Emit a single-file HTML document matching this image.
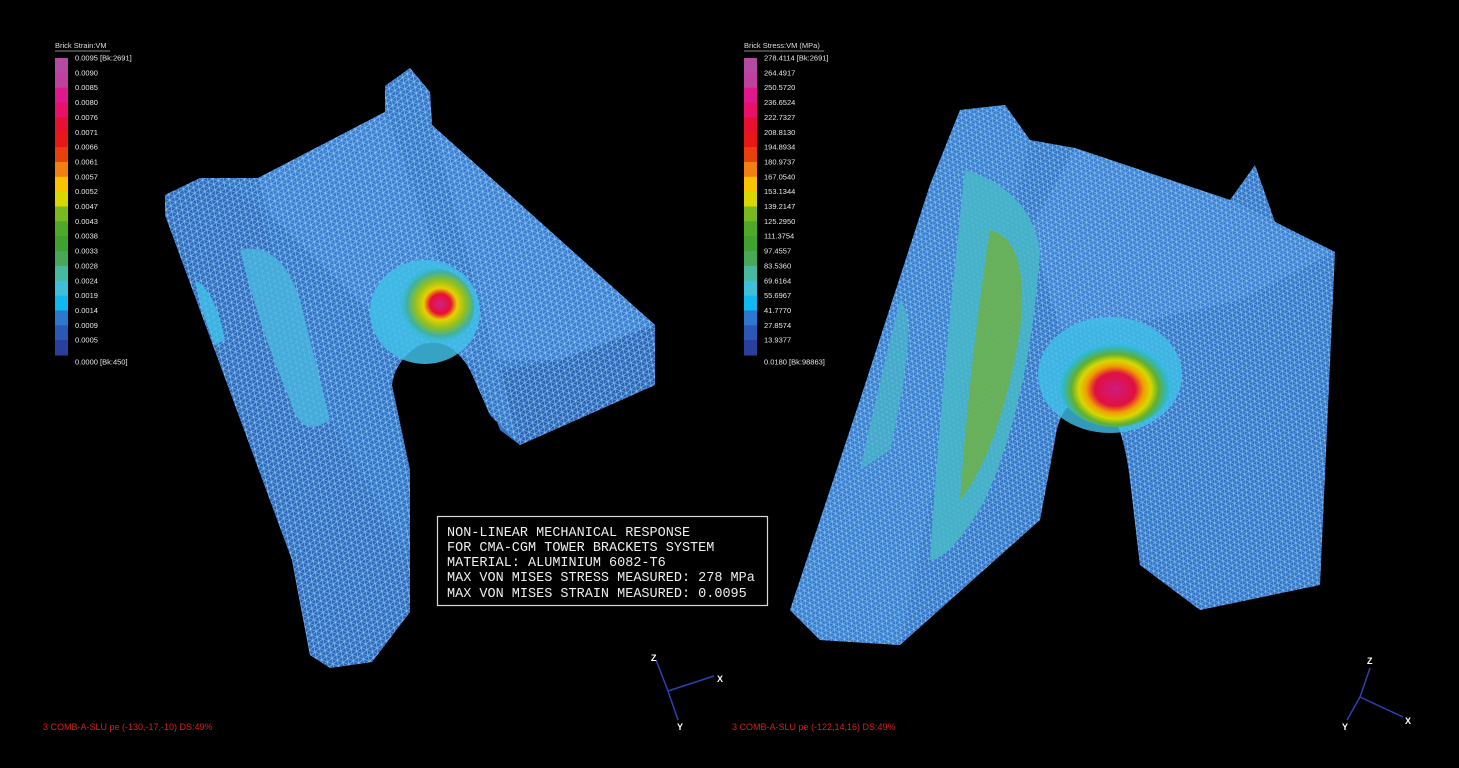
<!DOCTYPE html>
<html><head><meta charset="utf-8"><style>
html,body{margin:0;padding:0;background:#000;width:1459px;height:768px;overflow:hidden}
svg{display:block}
text{font-family:"Liberation Sans",sans-serif}
text.mono{font-family:"Liberation Mono",monospace}
</style></head><body>
<svg id="s" width="1459" height="768" viewBox="0 0 1459 768">
<defs>
<pattern id="mesh" width="12" height="10" patternUnits="userSpaceOnUse" patternTransform="rotate(20)">
<path d="M0 0H12M0 5H12M0 10H12M0 0L6 10M6 0L12 10M12 0L6 10M6 0L0 10" stroke="#a0dcff" stroke-width="0.6" fill="none" opacity="0.85"/>
</pattern>
<pattern id="mesh2" width="10" height="9" patternUnits="userSpaceOnUse" patternTransform="rotate(-35)">
<path d="M0 0H10M0 4.5H10M0 9H10M0 0L5 9M5 0L10 9M10 0L5 9M5 0L0 9" stroke="#a0dcff" stroke-width="0.55" fill="none" opacity="0.8"/>
</pattern>
<radialGradient id="hotL" cx="0.6" cy="0.45" r="0.5">
<stop offset="0" stop-color="#d0208a"/><stop offset="0.25" stop-color="#e81030"/><stop offset="0.4" stop-color="#e8d000"/><stop offset="0.6" stop-color="#90c020"/><stop offset="0.8" stop-color="#40b0a0"/><stop offset="1" stop-color="#30c0e8" stop-opacity="0"/>
</radialGradient>
<radialGradient id="hotR" cx="0.5" cy="0.6" r="0.5">
<stop offset="0" stop-color="#d01a80"/><stop offset="0.35" stop-color="#e01040"/><stop offset="0.5" stop-color="#f0a000"/><stop offset="0.62" stop-color="#d8d800"/><stop offset="0.75" stop-color="#60b030"/><stop offset="0.9" stop-color="#30b8c8"/><stop offset="1" stop-color="#30c0e8" stop-opacity="0"/>
</radialGradient>
</defs>

<g>
<path d="M165,195 L200,178 L258,178 L385,112 L385,86 L410,68 L430,92 L432,125 L655,325 L655,385 L520,445 L490,415 L470,370 Q450,335 420,345 Q395,360 392,385 L410,470 L410,612 L372,662 L330,668 L310,655 L292,560 L165,215 Z" fill="#2f6fc4"/>
<path d="M258,178 L385,112 L432,125 L655,325 L560,360 L470,360 Q440,330 410,350 L270,215 Z" fill="#3a7bd0"/>
<path d="M165,195 L200,178 L230,185 L258,205 L330,420 L410,560 L410,612 L372,662 L330,668 L310,655 L292,560 L165,215 Z" fill="#2d68bc"/>
<path d="M520,445 L655,385 L655,325 L560,360 L500,370 Z" fill="#2a62b4"/>
<path d="M385,86 L410,68 L430,92 L432,125 L520,445 L500,430 L385,112 Z" fill="#3272c6"/>
<path d="M165,195 L200,178 L258,178 L385,112 L385,86 L410,68 L430,92 L432,125 L655,325 L655,385 L520,445 L490,415 L470,370 Q450,335 420,345 Q395,360 392,385 L410,470 L410,612 L372,662 L330,668 L310,655 L292,560 L165,215 Z" fill="url(#mesh)"/>
<path d="M240,250 Q280,240 300,300 L330,420 Q300,440 290,400 Q260,330 240,250 Z" fill="#48b8e0" opacity="0.8"/>
<path d="M195,280 Q215,290 225,340 L215,345 Q200,310 195,280 Z" fill="#40c0e8" opacity="0.8"/>
<ellipse cx="425" cy="312" rx="55" ry="52" fill="#40c0e8" opacity="0.85"/>
<ellipse cx="432" cy="308" rx="42" ry="40" fill="url(#hotL)"/>
</g>

<g>
<path d="M930,185 L960,110 L1005,105 L1030,140 L1075,148 L1230,200 L1255,165 L1275,222 L1335,252 L1320,585 L1200,610 L1140,565 L1130,480 Q1120,400 1090,395 Q1060,400 1055,440 L1040,520 L900,645 L820,640 L790,610 L860,400 Z" fill="#2f6fc4"/>
<path d="M1075,148 L1230,200 L1275,222 L1335,252 L1240,300 L1150,320 L1060,330 L1030,230 Z" fill="#3a7bd0"/>
<path d="M930,185 L960,110 L1005,105 L1030,140 L990,300 L930,500 L900,645 L820,640 L790,610 L860,400 Z" fill="#3478cc"/>
<path d="M930,185 L960,110 L1005,105 L1030,140 L1075,148 L1230,200 L1255,165 L1275,222 L1335,252 L1320,585 L1200,610 L1140,565 L1130,480 Q1120,400 1090,395 Q1060,400 1055,440 L1040,520 L900,645 L820,640 L790,610 L860,400 Z" fill="url(#mesh2)"/>
<path d="M965,170 Q1030,190 1040,250 Q1030,400 985,500 Q950,560 930,560 Q940,400 965,170 Z" fill="#48b8c8" opacity="0.85"/>
<path d="M990,230 Q1030,240 1020,330 Q1000,450 960,500 Q970,360 990,230 Z" fill="#70b040" opacity="0.8"/>
<path d="M900,300 Q920,320 890,450 L860,470 Q880,380 900,300 Z" fill="#48b8c8" opacity="0.7"/>
<ellipse cx="1110" cy="375" rx="72" ry="58" fill="#40c0e8" opacity="0.8"/>
<ellipse cx="1115" cy="380" rx="58" ry="47" fill="url(#hotR)"/>
</g>

<g>
<rect x="437.5" y="516.5" width="330" height="89" fill="#000" stroke="#d8d8d8" stroke-width="1.2"/>
<g fill="#eee" font-size="13.5">
<text class="mono" x="447" y="536">NON-LINEAR MECHANICAL RESPONSE</text>
<text class="mono" x="447" y="551">FOR CMA-CGM TOWER BRACKETS SYSTEM</text>
<text class="mono" x="447" y="566">MATERIAL: ALUMINIUM 6082-T6</text>
<text class="mono" x="447" y="581">MAX VON MISES STRESS MEASURED: 278 MPa</text>
<text class="mono" x="447" y="597">MAX VON MISES STRAIN MEASURED: 0.0095</text>
</g></g>

<g stroke="#3040b0" stroke-width="1.5">
<line x1="668" y1="691" x2="656" y2="660"/><line x1="668" y1="691" x2="714" y2="676"/><line x1="668" y1="691" x2="678" y2="720"/>
</g>
<g fill="#fff" font-size="9" font-weight="bold">
<text x="651" y="661">Z</text><text x="717" y="682">X</text><text x="677" y="730">Y</text>
</g>
<g stroke="#3040b0" stroke-width="1.5">
<line x1="1360" y1="697" x2="1370" y2="668"/><line x1="1360" y1="697" x2="1403" y2="717"/><line x1="1360" y1="697" x2="1347" y2="720"/>
</g>
<g fill="#fff" font-size="9" font-weight="bold">
<text x="1367" y="664">Z</text><text x="1405" y="724">X</text><text x="1342" y="730">Y</text>
</g>

<text x="43" y="730" font-size="9" fill="#d42020">3  COMB-A-SLU pe  (-130,-17,-10)  DS:49%</text>
<text x="732" y="730" font-size="9" fill="#d42020">3  COMB-A-SLU pe  (-122,14,16)  DS:49%</text>

<g id="legL"></g>
<g id="legR"></g>
</svg>
<script>
const bandColors=["#b44aa2","#c0409e","#e0188e","#e8106a","#e81030","#e81818","#e8400c","#f08010","#f8c400","#d8d800","#a8c814","#78b820","#50a828","#40a030","#48a858","#48b8a0","#40c0d8","#10b8f0","#2c78d0","#2a58b4","#283f9c"];
const strainLabels=["0.0095 [Bk:2691]","0.0090","0.0085","0.0080","0.0076","0.0071","0.0066","0.0061","0.0057","0.0052","0.0047","0.0043","0.0038","0.0033","0.0028","0.0024","0.0019","0.0014","0.0009","0.0005","0.0000 [Bk:450]"];
const stressLabels=["278.4114 [Bk:2691]","264.4917","250.5720","236.6524","222.7327","208.8130","194.8934","180.9737","167.0540","153.1344","139.2147","125.2950","111.3754","97.4557","83.5360","69.6164","55.6967","41.7770","27.8574","13.9377","0.0180 [Bk:98863]"];
const NS="http://www.w3.org/2000/svg";
function legend(g,x0,title,labels){
  const top=58,bot=355,n=20,h=(bot-top)/n;
  const t=document.createElementNS(NS,'text');
  t.setAttribute('x',x0);t.setAttribute('y',48);t.setAttribute('font-size','7.5');t.setAttribute('fill','#ddd');
  t.textContent=title;
  
  
  g.appendChild(t);
  const u=document.createElementNS(NS,'line');
  u.setAttribute('x1',x0);u.setAttribute('x2',x0+55+(title.length>18?25:0));u.setAttribute('y1',51);u.setAttribute('y2',51);u.setAttribute('stroke','#bbb');u.setAttribute('stroke-width','0.8');
  g.appendChild(u);
  for(let i=0;i<n;i++){
    const r=document.createElementNS(NS,'rect');
    r.setAttribute('x',x0);r.setAttribute('y',top+i*h);r.setAttribute('width',13);r.setAttribute('height',h+0.5);
    r.setAttribute('fill',bandColors[i+(i>9?1:0)]);
    
    
    g.appendChild(r);
  }
  labels.forEach((l,i)=>{
    const tx=document.createElementNS(NS,'text');
    const y=i<20?top+i*h+2.5:362+2.5;
    tx.setAttribute('x',x0+20);tx.setAttribute('y',y);tx.setAttribute('font-size','7.5');tx.setAttribute('fill','#e8e8e8');
    tx.textContent=l;
    
    
    g.appendChild(tx);
  });
}
legend(document.getElementById('legL'),55,"Brick Strain:VM",strainLabels);
legend(document.getElementById('legR'),744,"Brick Stress:VM (MPa)",stressLabels);
</script>
</body></html>
